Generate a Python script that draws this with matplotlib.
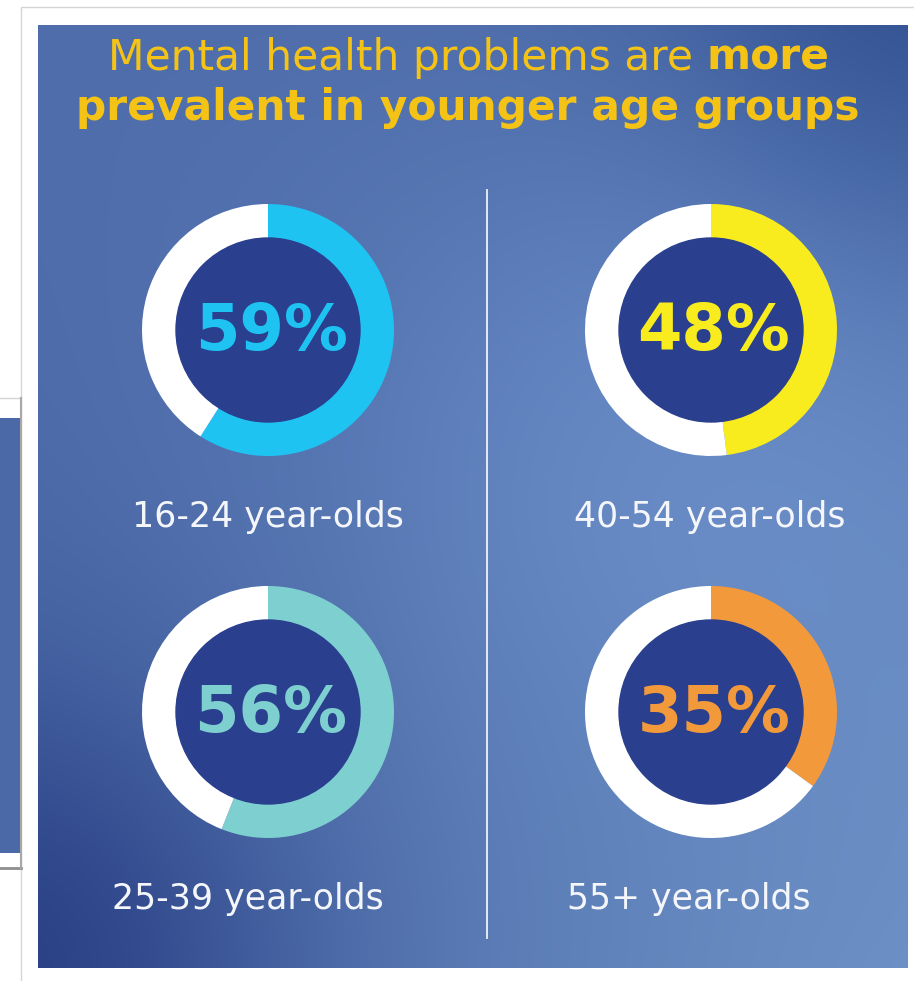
import numpy as np
import matplotlib
matplotlib.use("Agg")
import matplotlib.pyplot as plt
from matplotlib.patches import Rectangle, Circle

groups = ["16-24 year-olds", "40-54 year-olds", "25-39 year-olds", "55+ year-olds"]
shares = [59, 48, 56, 35]
ring_colors = ["#1fc3f2", "#f8ec1e", "#7ecfcf", "#f2993c"]
title_regular = "Mental health problems are"
title_bold = "more"
title_line2 = "prevalent in younger age groups"

W, H = 914, 981
gold = "#f4c316"
dark = "#2a3f8e"

fig = plt.figure(figsize=(W / 100, H / 100), dpi=100)
fig.patch.set_facecolor("white")

# background axes in pixel units (y going down)
bg = fig.add_axes([0, 0, 1, 1])
bg.axis("off")

# card behind + piece of another card on the left
bg.add_patch(Rectangle((21, 7), 900, 990, fc="white", ec="#d6d6d6", lw=1))
bg.add_patch(Rectangle((0, 418), 20, 435, fc="#4b69a7", ec="none"))
bg.plot([0, 20], [398, 398], color="#d4d4d4", lw=1)
bg.plot([0, 21], [868, 868], color="#8e8e8e", lw=2)
bg.plot([20.5, 20.5], [398, 868], color="#a8a8a8", lw=1.5)

# gradient blue panel
px0, px1, py0, py1 = 38, 908, 25, 968
gx, gy = np.meshgrid(np.linspace(px0, px1, 300), np.linspace(py0, py1, 300))
u = (gx - px0) / (px1 - px0)
v = (gy - py0) / (py1 - py0)
TL = np.array([0.31, 0.43, 0.67])
TR = np.array([0.29, 0.41, 0.65])
BL = np.array([0.29, 0.41, 0.65])
BR = np.array([0.42, 0.56, 0.77])
img = ((1 - u)[..., None] * (1 - v)[..., None] * TL + u[..., None] * (1 - v)[..., None] * TR
       + (1 - u)[..., None] * v[..., None] * BL + u[..., None] * v[..., None] * BR)
bump = np.exp(-((gx - 700) ** 2 + (gy - 420) ** 2) / (2 * 260 ** 2))
img += bump[..., None] * np.array([0.07, 0.08, 0.08])
tr = np.exp(-((gx - 908) ** 2 + (gy - 25) ** 2) / (2 * 180 ** 2))
img -= tr[..., None] * np.array([0.09, 0.09, 0.08])
bl = np.exp(-((gx - 38) ** 2 + (gy - 968) ** 2) / (2 * 200 ** 2))
img -= bl[..., None] * np.array([0.12, 0.15, 0.12])
img = np.clip(img, 0, 1)
bg.imshow(img, extent=(px0, px1, py1, py0), aspect="auto", interpolation="bilinear", zorder=1)

bg.set_xlim(0, W)
bg.set_ylim(H, 0)

# divider
bg.plot([487, 487], [190, 938], color="white", lw=1.3, alpha=0.9, zorder=2)

# title, two weights on line 1
fs = 30.5
r = fig.canvas.get_renderer()
t1 = bg.text(0, 70, title_regular, fontsize=fs, color=gold, ha="left", va="baseline", zorder=3)
t2 = bg.text(0, 70, title_bold, fontsize=fs, color=gold, fontweight="bold", ha="left", va="baseline", zorder=3)
w1 = t1.get_window_extent(r).width
w2 = t2.get_window_extent(r).width
sp = 0.318 * fs * 100 / 72
x0 = 469 - (w1 + sp + w2) / 2
t1.set_x(x0)
t2.set_x(x0 + w1 + sp)
bg.text(468, 120, title_line2, fontsize=fs, color=gold, fontweight="bold",
        ha="center", va="baseline", zorder=3)

# donuts
centers = [(268, 330), (711, 330), (268, 712), (711, 712)]
label_x = [268, 710, 248, 689]
S = 264
for (cx, cy), val, col, lab, lx in zip(centers, shares, ring_colors, groups, label_x):
    ax = fig.add_axes([(cx - S / 2) / W, 1 - (cy + S / 2) / H, S / W, S / H])
    ax.pie([val, 100 - val], colors=[col, "white"], startangle=90, counterclock=False,
           radius=126, wedgeprops=dict(width=40, linewidth=0))
    ax.add_patch(Circle((0, 0), 92, color=dark, zorder=3))
    ax.text(3, -20, f"{val}%", ha="center", va="baseline", fontsize=46,
            fontweight="bold", color=col, zorder=4)
    ax.set_xlim(-S / 2, S / 2)
    ax.set_ylim(-S / 2, S / 2)
    ax.set_aspect("equal")
    ax.axis("off")
    bg.text(lx, cy + 197, lab, ha="center", va="baseline", fontsize=25,
            color="#f4f6fa", zorder=3)

fig.savefig("out.png", dpi=100)
